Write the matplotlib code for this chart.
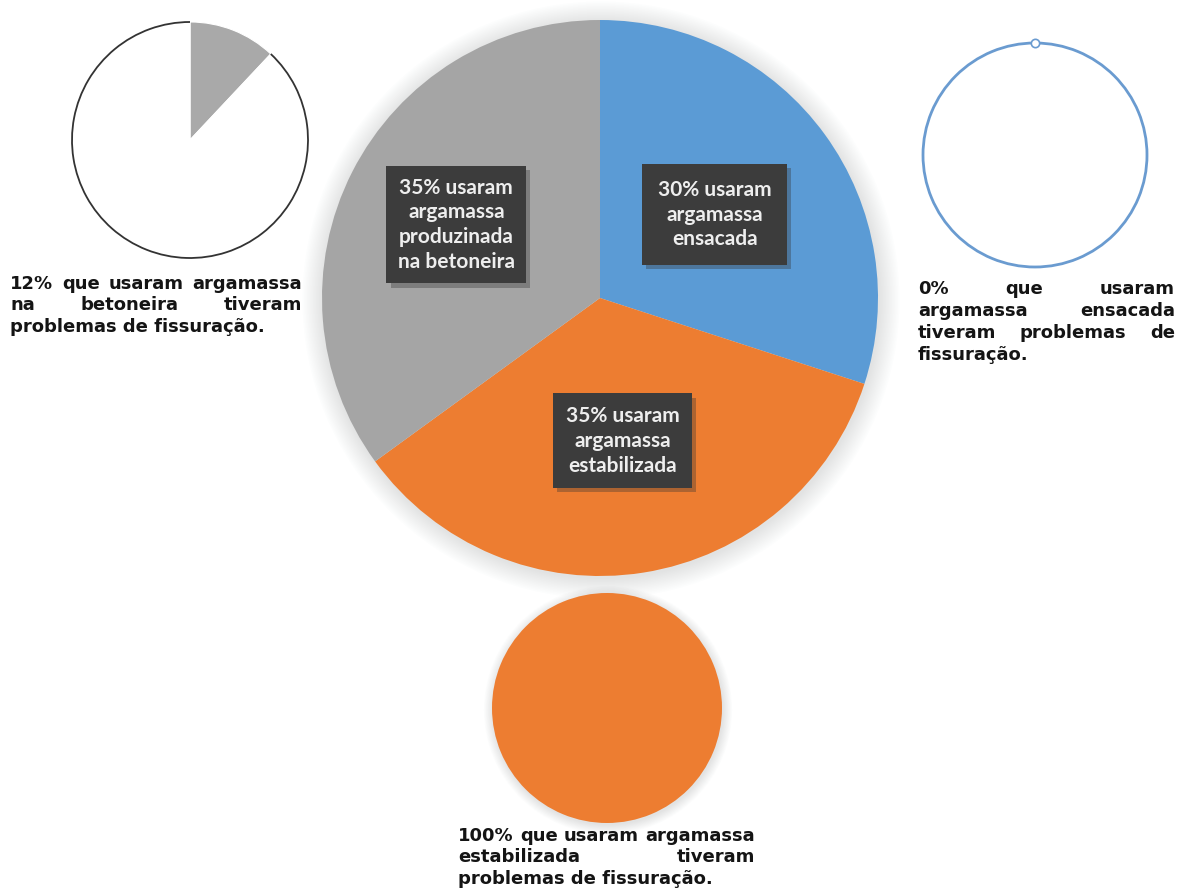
import matplotlib
matplotlib.use("Agg")
import numpy as np
from matplotlib import pyplot as plt
from matplotlib.patches import Circle, Arc
from matplotlib import patheffects as pe

# main pie: share of each mortar type
main_labels = ["30% usaram\nargamassa\nensacada",
               "35% usaram\nargamassa\nestabilizada",
               "35% usaram\nargamassa\nproduzinada\nna betoneira"]
main_values = [30, 35, 35]
main_colors = ["#5B9BD5", "#ED7D31", "#A5A5A5"]

# small pies: share with cracking problems per mortar type
betoneira_values = [12, 88]
ensacada_values = [0, 100]
estabilizada_values = [100, 0]

betoneira_text = ["12% que usaram argamassa", "na betoneira tiveram",
                  "problemas de fissuração."]
ensacada_text = ["0% que usaram", "argamassa ensacada",
                 "tiveram problemas de", "fissuração."]
estabilizada_text = ["100% que usaram argamassa", "estabilizada tiveram",
                     "problemas de fissuração."]

W, H = 1179, 893


def py(y):
    # pixel row from the top -> data y
    return H - y


def justified(ax, renderer, lines, x0, x1, y0, lh, **kw):
    for i, line in enumerate(lines):
        y = py(y0 + i * lh)
        words = line.split()
        if i == len(lines) - 1 or len(words) == 1:
            ax.text(x0, y, line, ha="left", va="center", **kw)
            continue
        texts = [ax.text(0, y, w, ha="left", va="center", **kw) for w in words]
        widths = [t.get_window_extent(renderer).width for t in texts]
        gap = (x1 - x0 - sum(widths)) / (len(words) - 1)
        x = x0
        for t, w in zip(texts, widths):
            t.set_x(x)
            x += w + gap


def main():
    fig = plt.figure(figsize=(W / 100, H / 100), dpi=100)
    ax = fig.add_axes([0, 0, 1, 1])

    # soft shadow behind main pie and bottom pie
    for k in range(14):
        ax.add_patch(Circle((601, py(300)), 279 + k * 1.5, color="#a8b2ba",
                            alpha=0.025, lw=0, zorder=0))
        ax.add_patch(Circle((608, py(710)), 115 + k * 0.7, color="#a8b2ba",
                            alpha=0.025, lw=0, zorder=0))

    # main pie
    wedges, _ = ax.pie(main_values, colors=main_colors, startangle=90,
                       counterclock=False, center=(600, py(298)), radius=278,
                       wedgeprops=dict(lw=0), frame=True)
    dists = [0.51, 0.52, 0.58]
    pads = [0.75, 0.6, 0.55]
    for w, lab, d, p in zip(wedges, main_labels, dists, pads):
        ang = np.deg2rad((w.theta1 + w.theta2) / 2)
        x = 600 + d * 278 * np.cos(ang)
        y = py(298) + d * 278 * np.sin(ang)
        t = ax.text(x, y, lab, ha="center", va="center", color="#eeeeee",
                    fontsize=15, fontweight="bold", family="Lato",
                    linespacing=1.3, zorder=4,
                    bbox=dict(boxstyle="square,pad=%.2f" % p, fc="#3c3c3c",
                              ec="none"))
        t.get_bbox_patch().set_path_effects(
            [pe.SimplePatchShadow(offset=(3, -3), shadow_rgbFace="#333333",
                                  alpha=0.35), pe.Normal()])

    # top-left: betoneira
    bw, _ = ax.pie(betoneira_values, colors=["#A9A9A9", "white"], startangle=90,
                   counterclock=False, center=(190, py(140)), radius=118,
                   explode=[0.035, 0], frame=True,
                   wedgeprops=dict(edgecolor="white", lw=0.8))
    ax.add_patch(Arc((190, py(140)), 236, 236, theta1=bw[1].theta1,
                     theta2=bw[1].theta2, color="#333333", lw=1.3, zorder=3))

    # top-right: ensacada
    ew, _ = ax.pie(ensacada_values, colors=["white", "white"], startangle=90,
                   counterclock=False, center=(1035, py(155)), radius=112,
                   wedgeprops=dict(edgecolor="#6A9BD0", lw=2.0), frame=True)
    ax.plot([1035], [py(155) + 112], "o", ms=6, mfc="white", mec="#6A9BD0",
            mew=1.2, zorder=5)

    # bottom: estabilizada
    ax.pie(estabilizada_values, colors=["#ED7D31", "#ED7D31"], startangle=90,
           counterclock=False, center=(607, py(708)), radius=115,
           wedgeprops=dict(lw=0), frame=True)

    ax.set_xlim(0, W)
    ax.set_ylim(0, H)
    ax.set_aspect("equal")
    ax.axis("off")

    renderer = fig.canvas.get_renderer()
    tkw = dict(fontsize=13, fontweight="bold", family="DejaVu Sans",
               color="#141414")
    justified(ax, renderer, betoneira_text, 10, 302, 284, 21.5, **tkw)
    justified(ax, renderer, ensacada_text, 918, 1175, 289, 22, **tkw)
    justified(ax, renderer, estabilizada_text, 458, 755, 836, 21.5, **tkw)

    fig.savefig("out.png", dpi=100)


if __name__ == "__main__":
    main()
